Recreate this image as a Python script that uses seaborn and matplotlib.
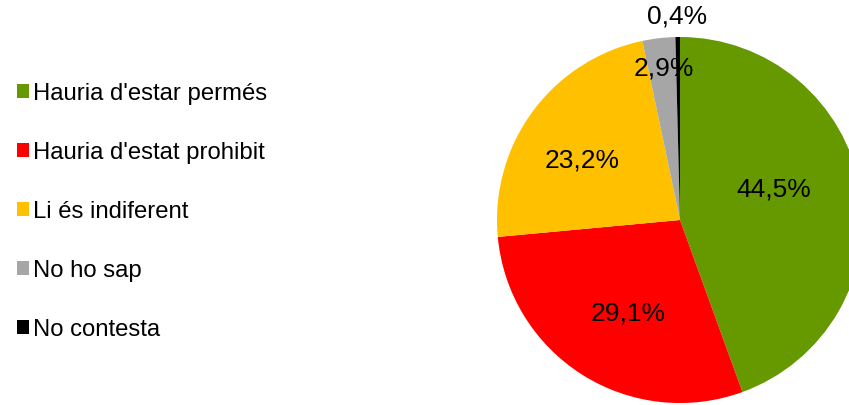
import numpy as np
import matplotlib
matplotlib.use("Agg")
import matplotlib.pyplot as plt
import seaborn as sns

categories = ["Hauria d'estar permés", "Hauria d'estat prohibit", "Li és indiferent",
              "No ho sap", "No contesta"]
values = [44.5, 29.1, 23.2, 2.9, 0.4]
pct_labels = ["44,5%", "29,1%", "23,2%", "2,9%", "0,4%"]
colors = ["#669900", "#FF0000", "#FFC000", "#A6A6A6", "#000000"]
# label placement: radial fraction of radius and angle nudge (degrees)
label_dist = [0.54, 0.58, 0.63, 0.84, 1.12]
label_nudge = [8.5, 3.0, 4.5, -0.7, 0.0]

sns.set_theme(style="white")
plt.rcParams["font.family"] = ["Liberation Sans", "DejaVu Sans"]

fig = plt.figure(figsize=(8.49, 4.06), dpi=100)
ax = fig.add_axes([0.5854, 0.0049, 0.4311, 0.9015])
wedges, _ = ax.pie(values, colors=sns.color_palette(colors), startangle=90,
                   counterclock=False, radius=1.0,
                   wedgeprops=dict(linewidth=0))
ax.set_xlim(-1, 1)
ax.set_ylim(-1, 1)
ax.set_aspect("equal")
ax.axis("off")

for w, txt, d, n in zip(wedges, pct_labels, label_dist, label_nudge):
    ang = np.deg2rad((w.theta1 + w.theta2) / 2 + n)
    ax.text(d * np.cos(ang), d * np.sin(ang), txt, ha="center", va="center",
            fontsize=19, color="black", clip_on=False)

fig.legend(wedges, categories, loc="upper left", bbox_to_anchor=(0.02, 0.795),
           frameon=False, fontsize=17.2, handlelength=0.5, handleheight=0.5,
           handletextpad=0.15, labelspacing=1.55, borderpad=0, borderaxespad=0,
           labelcolor="black")

fig.savefig("out.png", dpi=100)
